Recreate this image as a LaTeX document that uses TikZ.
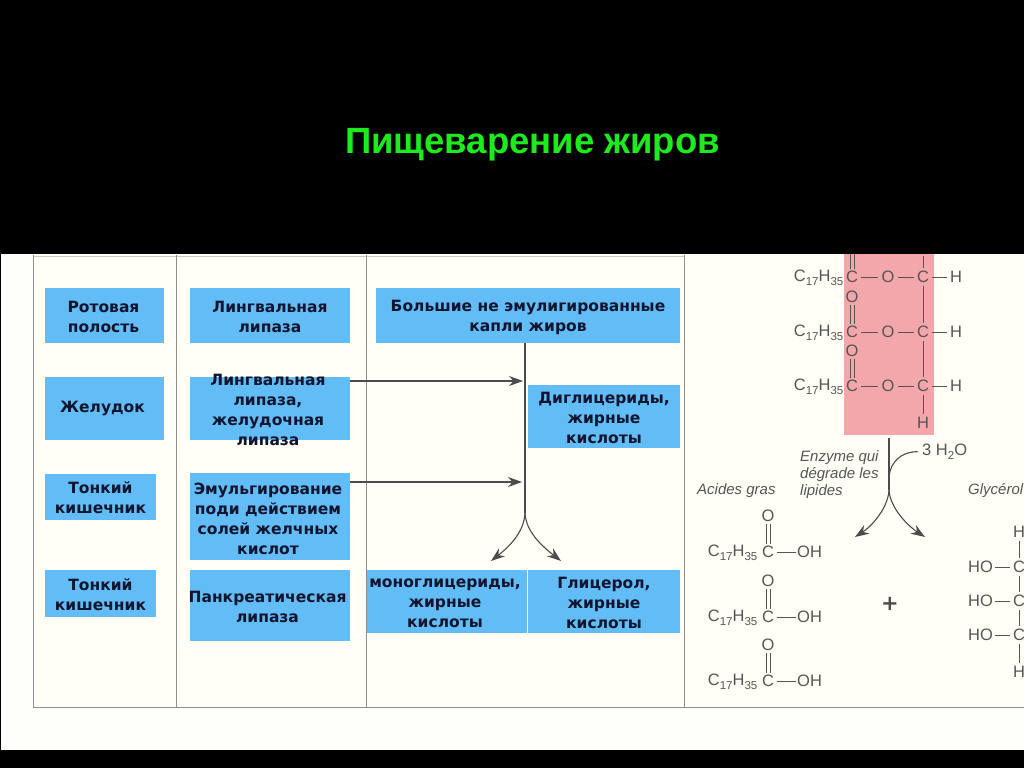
\documentclass[tikz,border=0pt]{standalone}
\usepackage{fontspec}
\setmainfont{Liberation Sans}
\newfontfamily\boxfont{DejaVu Sans}
\usetikzlibrary{arrows.meta,calc}
\definecolor{boxblue}{HTML}{62BDF6}
\definecolor{boxtext}{HTML}{10142E}
\definecolor{titlegreen}{HTML}{1CEB1C}
\definecolor{paper}{HTML}{FFFFF7}
\definecolor{margincol}{HTML}{FEFEFB}
\definecolor{pinkband}{HTML}{F4A7AA}
\definecolor{chemgrey}{HTML}{555555}
\definecolor{rulegrey}{HTML}{8F8F8B}
\newcommand{\chsub}[1]{\raisebox{-0.45ex}{\fontsize{11.5}{12}\selectfont #1}}
\newcommand{\alkyl}{C\chsub{17}H\chsub{35}}
\tikzset{
  bluebox/.style={fill=boxblue,draw=none,inner sep=0pt,anchor=north west},
  boxlabel/.style={font=\boxfont\bfseries\fontsize{15.5}{20}\selectfont,text=boxtext,align=center,inner sep=0pt},
  atom/.style={font=\fontsize{16.5}{18}\selectfont,text=chemgrey,inner sep=1.5pt},
  note/.style={font=\itshape\fontsize{15}{17}\selectfont,text=chemgrey,inner sep=0pt,align=left},
  bond/.style={draw=chemgrey,line width=0.7pt,shorten >=1.5pt,shorten <=1.5pt},
  dbond/.style={draw=chemgrey,line width=0.7pt},
  flow/.style={draw=black!70,line width=1.1pt},
  tip/.style={-{Stealth[length=14pt,width=10pt,color=black!70]}},
  tablerule/.style={draw=rulegrey,line width=1pt}
}
\begin{document}
\begin{tikzpicture}[x=1pt,y=-1pt]
\useasboundingbox (0,0) rectangle (1024,768);
\clip (0,0) rectangle (1024,768);
\fill[black] (0,0) rectangle (1024,768);
\fill[margincol] (1,254) rectangle (1024,750);
\fill[paper] (33,254) rectangle (1024,707);
\fill[pinkband] (844,254) rectangle (934,435);
% table
\draw[draw=rulegrey!50,line width=0.7pt] (33,256) -- (684,256);
\draw[tablerule] (33,255) -- (33,707) -- (1024,707);
\draw[tablerule] (176,255) -- (176,707);
\draw[tablerule] (366,255) -- (366,707);
\draw[tablerule] (684,255) -- (684,707);
% title
\node (title) at (532.5,144.5) {\fontsize{36.5}{40}\selectfont\bfseries\textcolor{titlegreen}{Пищеварение жиров}};
% boxes
\foreach \nm/\xa/\ya/\xb/\yb in {b1/45/288/164/343,b2/190/288/350/343,b3/376/288/680/343,b4/45/377/164/440,b5/190/377/350/440,b6/528/385/680/448,b7/45/474/156/520,b8/190/473/350/560,b9/45/570/156/617,b10/190/570/350/641,b11/367/570/527/633,b12/528/570/680/633}{
  \pgfmathsetmacro{\ww}{\xb-\xa}\pgfmathsetmacro{\hh}{\yb-\ya}
  \node[bluebox,minimum width=\ww pt,minimum height=\hh pt] (\nm) at (\xa,\ya) {};
}
\node[boxlabel] (t1) at (103.5,317) {Ротовая\\полость};
\node[boxlabel] (t2) at (270,317) {Лингвальная\\липаза};
\node[boxlabel] (t3) at (528,317) {Большие не эмулигированные\\капли жиров};
\node[boxlabel] (t4) at (102.5,409) {Желудок};
\node[boxlabel] (t5) at (268,410) {Лингвальная\\липаза,\\желудочная\\липаза};
\node[boxlabel] (t6) at (604,418) {Диглицериды,\\жирные\\кислоты};
\node[boxlabel] (t7) at (100.5,498) {Тонкий\\кишечник};
\node[boxlabel] (t8) at (268,519) {Эмульгирование\\поди действием\\солей желчных\\кислот};
\node[boxlabel] (t9) at (100.5,595) {Тонкий\\кишечник};
\node[boxlabel] (t10) at (267.5,607) {Панкреатическая\\липаза};
\node[boxlabel] (t11) at (445,603) {моноглицериды,\\жирные\\кислоты};
\node[boxlabel] (t12) at (604,603) {Глицерол,\\жирные\\кислоты};
% flow
\coordinate (fork) at (525,513);
\coordinate (in1) at (523,381);
\coordinate (in2) at (522,482);
\coordinate (mono) at (491,561);
\coordinate (glyc) at (561,561);
\draw[flow] (fork |- b3.south) -- (fork);
\draw[flow,tip] (b5.east |- in1) -- (in1);
\draw[flow,tip] (b8.east |- in2) -- (in2);
\draw[flow,tip] (fork) .. controls (524,532) and (510,546) .. (mono);
\draw[flow,tip] (fork) .. controls (526,532) and (542,546) .. (glyc);
% triglyceride
\foreach \r/\y in {a/277,b/332,c/386}{
  \node[atom,anchor=east] (alk\r) at (845,\y+1) {\alkyl};
  \node[atom] (cc\r) at (852,\y) {C};
  \node[atom] (oe\r) at (888,\y) {O};
  \node[atom] (cg\r) at (923,\y) {C};
  \node[atom] (hg\r) at (956,\y) {H};
  \draw[bond] (cc\r) -- (oe\r);
  \draw[bond] (oe\r) -- (cg\r);
  \draw[bond] (cg\r) -- (hg\r);
}
\node[atom] (oa) at (852,297) {O};
\node[atom] (ob) at (852,351) {O};
\node[atom] (hbot) at (923,423) {H};
\coordinate (topc) at (852,254);
\coordinate (topg) at (923,254);
\draw[dbond] ([xshift=-2pt]topc) -- ([xshift=-2pt]cca.north);
\draw[dbond] ([xshift=2pt]topc) -- ([xshift=2pt]cca.north);
\draw[dbond] ([xshift=-2pt]oa.south) -- ([xshift=-2pt]ccb.north);
\draw[dbond] ([xshift=2pt]oa.south) -- ([xshift=2pt]ccb.north);
\draw[dbond] ([xshift=-2pt]ob.south) -- ([xshift=-2pt]ccc.north);
\draw[dbond] ([xshift=2pt]ob.south) -- ([xshift=2pt]ccc.north);
\draw[bond] (topg) -- (cga);
\draw[bond] (cga) -- (cgb);
\draw[bond] (cgb) -- (cgc);
\draw[bond] (cgc) -- (hbot);
% hydrolysis arrows
\coordinate (hs) at (889,438);
\coordinate (hf) at (889,490);
\coordinate (hl) at (855,537);
\coordinate (hr) at (925,537);
\node[atom,anchor=west,inner sep=0pt] (water) at (922,452) {3 H\chsub{2}O};
\draw[flow] (hs) -- (hf);
\draw[flow,shorten >=4pt] (889,477) .. controls (890,462) and (902,451) .. (water.west);
\draw[flow,tip] (hf) .. controls (888,508) and (872,526) .. (hl);
\draw[flow,tip] (hf) .. controls (890,508) and (908,526) .. (hr);
\node[note,anchor=west] (enz) at (800,475) {Enzyme qui\\dégrade les\\lipides};
\node[note,anchor=west] (ag) at (697,491) {Acides gras};
\node[note,anchor=west] (gl) at (968,491) {Glycérol};
% fatty acids
\foreach \r/\y in {a/552,b/617,c/681}{
  \node[atom,anchor=east] (fa\r) at (759,\y+1) {\alkyl};
  \node[atom] (fc\r) at (768,\y) {C};
  \node[atom] (fo\r) at (768,\y-36) {O};
  \node[atom,anchor=west,inner sep=0pt] (foh\r) at (797,\y) {OH};
  \draw[bond] (fc\r) -- (foh\r);
  \draw[dbond] ([xshift=-2pt]fo\r.south) -- ([xshift=-2pt]fc\r.north);
  \draw[dbond] ([xshift=2pt]fo\r.south) -- ([xshift=2pt]fc\r.north);
}
\node (plus) at (890,604) {\boxfont\fontsize{21}{21}\selectfont\bfseries\textcolor{black!70}{+}};
% glycerol
\foreach \r/\y in {a/567,b/601,c/635}{
  \node[atom] (gc\r) at (1019,\y) {C};
  \node[atom,anchor=west,inner sep=0pt] (gho\r) at (968,\y) {HO};
  \draw[bond] (gho\r) -- (gc\r);
}
\node[atom] (gh1) at (1019,532) {H};
\node[atom] (gh2) at (1019,672) {H};
\draw[bond] (gh1) -- (gca);
\draw[bond] (gca) -- (gcb);
\draw[bond] (gcb) -- (gcc);
\draw[bond] (gcc) -- (gh2);
\end{tikzpicture}
\end{document}
